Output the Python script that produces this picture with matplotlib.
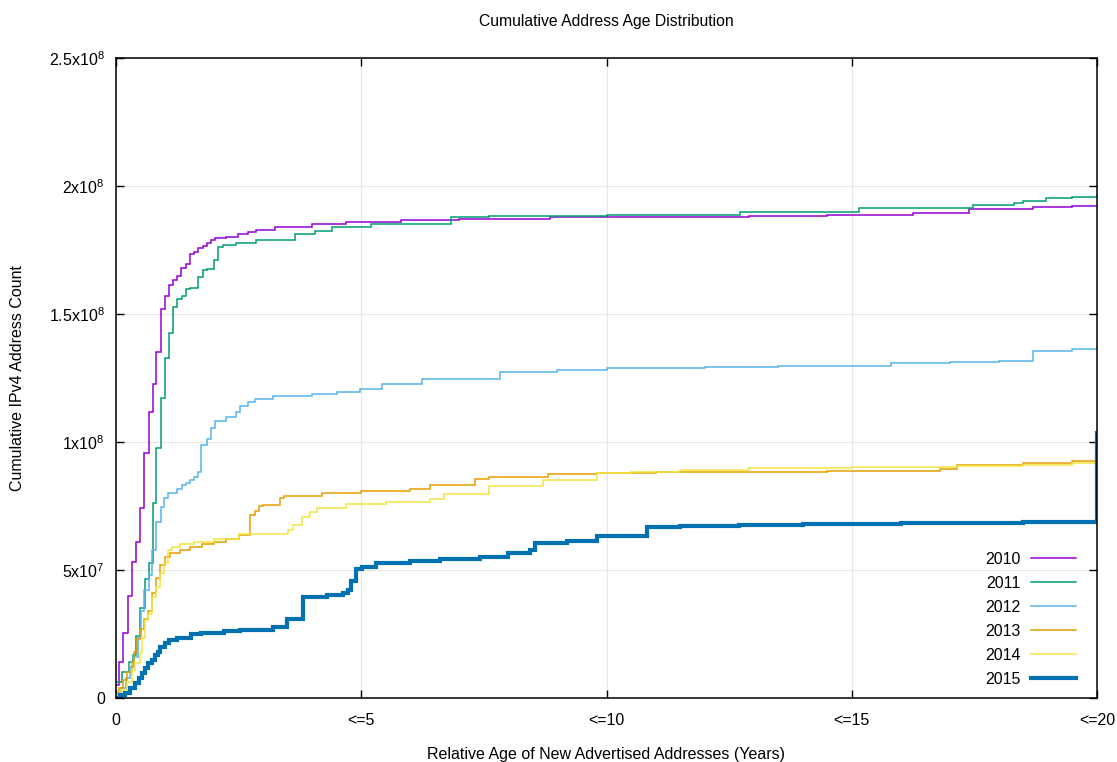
import matplotlib
matplotlib.use("Agg")
import matplotlib.pyplot as plt
import numpy as np

plt.rcParams['font.family'] = ['Liberation Sans', 'DejaVu Sans']
plt.rcParams['mathtext.default'] = 'regular'

SCALE = 1e8  # values below are in units of 1e8 addresses

years_2010 = [0, 0.07, 0.152, 0.235, 0.324, 0.413, 0.495, 0.578, 0.667, 0.749, 0.825, 0.914, 0.996,
              1.079, 1.168, 1.25, 1.333, 1.422, 1.505, 1.594, 1.676, 1.765, 1.848, 1.937, 2.019, 2.246,
              2.486, 2.692, 2.864, 3.24, 4.0, 4.68, 5.82, 7.0, 8.85, 10.5, 12.9, 14.5, 16.25, 17.4, 18.7,
              19.5, 20]
count_2010 = [0.05, 0.142, 0.254, 0.399, 0.530, 0.609, 0.741, 0.958, 1.116, 1.227, 1.352, 1.521, 1.569,
              1.613, 1.631, 1.648, 1.678, 1.694, 1.734, 1.743, 1.756, 1.766, 1.776, 1.789, 1.795, 1.802,
              1.8125, 1.822, 1.829, 1.839, 1.850, 1.858, 1.867, 1.871, 1.877, 1.879, 1.883, 1.887, 1.893,
              1.909, 1.917, 1.921, 1.923]

years_2011 = [0, 0.12, 0.255, 0.337, 0.413, 0.495, 0.585, 0.667, 0.749, 0.825, 0.914, 0.996, 1.086, 1.168,
              1.25, 1.34, 1.422, 1.505, 1.676, 1.765, 1.855, 2.006, 2.088, 2.177, 2.452, 2.864, 3.65,
              4.065, 4.4, 5.2, 6.83, 7.6, 10.0, 12.72, 15.15, 17.47, 18.3, 18.5, 18.97, 19.5, 20]
count_2011 = [0.063, 0.10, 0.142, 0.169, 0.241, 0.353, 0.464, 0.526, 0.760, 0.977, 1.171, 1.329, 1.427, 1.527,
              1.560, 1.569, 1.596, 1.602, 1.644, 1.671, 1.677, 1.710, 1.7625, 1.770, 1.776, 1.789, 1.8125,
              1.826, 1.840, 1.850, 1.879, 1.884, 1.888, 1.900, 1.913, 1.926, 1.935, 1.942, 1.952, 1.958, 1.962]

years_2012 = [0, 0.1, 0.2, 0.29, 0.37, 0.45, 0.5, 0.58, 0.67, 0.74, 0.815, 0.91, 0.985, 1.07, 1.24, 1.34,
              1.42, 1.51, 1.6, 1.68, 1.73, 1.848, 1.937, 2.019, 2.246, 2.452, 2.535, 2.692, 2.83, 3.2, 4.0,
              4.5, 4.97, 5.42, 6.23, 7.83, 9.0, 10.0, 12.0, 13.5, 15.8, 17.0, 18.0, 18.7, 19.5, 20]
count_2012 = [0.015, 0.04, 0.08, 0.12, 0.16, 0.24, 0.34, 0.42, 0.48, 0.58, 0.689, 0.747, 0.78, 0.80, 0.815, 0.832,
              0.84, 0.852, 0.865, 0.884, 0.99, 1.013, 1.056, 1.083, 1.096, 1.116, 1.142, 1.158, 1.168, 1.178, 1.187,
              1.196, 1.207, 1.227, 1.248, 1.275, 1.282, 1.288, 1.294, 1.297, 1.307, 1.312, 1.316, 1.355, 1.362,
              1.368]

years_2013 = [0, 0.07, 0.15, 0.23, 0.32, 0.37, 0.42, 0.49, 0.57, 0.66, 0.74, 0.82, 0.90, 0.99, 1.1, 1.3,
              1.5, 1.75, 2.0, 2.246, 2.5, 2.74, 2.83, 2.91, 3.0, 3.35, 3.43, 4.2, 5.0, 6.0, 6.4, 7.32, 7.6,
              8.8, 9.8, 11.0, 12.9, 14.5, 16.8, 17.14, 18.5, 19.5, 20]
count_2013 = [0.01, 0.04, 0.07, 0.10, 0.14, 0.18, 0.23, 0.27, 0.31, 0.34, 0.41, 0.47, 0.52, 0.55, 0.565, 0.58,
              0.59, 0.60, 0.61, 0.622, 0.637, 0.714, 0.731, 0.749, 0.755, 0.780, 0.789, 0.802, 0.808, 0.816,
              0.833, 0.857, 0.864, 0.875, 0.879, 0.881, 0.884, 0.887, 0.893, 0.910, 0.917, 0.924, 0.926]

years_2014 = [0, 0.1, 0.22, 0.32, 0.39, 0.49, 0.52, 0.59, 0.66, 0.73, 0.81, 0.89, 0.98, 1.06, 1.14, 1.3,
              1.6, 2.0, 2.5, 3.5, 3.6, 3.79, 3.96, 4.1, 4.68, 5.5, 6.4, 6.68, 7.6, 8.7, 9.8, 10.5, 11.5,
              12.9, 15.0, 17.14, 18.5, 19.5, 20]
count_2014 = [0.01, 0.03, 0.064, 0.11, 0.137, 0.176, 0.234, 0.305, 0.33, 0.396, 0.435, 0.488, 0.527, 0.578,
              0.591, 0.60, 0.61, 0.622, 0.642, 0.656, 0.675, 0.708, 0.728, 0.741, 0.757, 0.765, 0.776, 0.796,
              0.830, 0.850, 0.877, 0.884, 0.890, 0.897, 0.901, 0.906, 0.912, 0.917, 0.919]

years_2015 = [0, 0.08, 0.18, 0.29, 0.39, 0.46, 0.52, 0.59, 0.66, 0.73, 0.80, 0.86, 0.90, 1.0, 1.08, 1.25,
              1.53, 1.73, 2.2, 2.53, 3.21, 3.48, 3.82, 4.3, 4.63, 4.72, 4.80, 4.89, 5.01, 5.31, 6.0, 6.6,
              7.42, 8.0, 8.44, 8.54, 9.2, 9.8, 10.82, 11.5, 12.7, 14.0, 16.0, 18.5, 19.98, 20]
count_2015 = [0.0, 0.01, 0.02, 0.04, 0.06, 0.08, 0.098, 0.117, 0.135, 0.15, 0.168, 0.18, 0.2, 0.215, 0.225,
              0.235, 0.249, 0.254, 0.262, 0.266, 0.279, 0.307, 0.396, 0.403, 0.409, 0.42, 0.458, 0.503, 0.513,
              0.526, 0.535, 0.542, 0.552, 0.565, 0.578, 0.604, 0.615, 0.634, 0.667, 0.673, 0.675, 0.678,
              0.682, 0.687, 0.689, 1.035]

series_labels = ['2010', '2011', '2012', '2013', '2014', '2015']
series_years = [years_2010, years_2011, years_2012, years_2013, years_2014, years_2015]
series_counts = [count_2010, count_2011, count_2012, count_2013, count_2014, count_2015]
colors = ['#9400d3', '#009e73', '#56b4e9', '#e69f00', '#f0e442', '#0072b2']
widths = [1.1, 1.1, 1.1, 1.1, 1.1, 3.0]

xtick_vals = [0, 5, 10, 15, 20]
xtick_labels = ['0', '<=5', '<=10', '<=15', '<=20']
ytick_vals = [0, 0.5, 1.0, 1.5, 2.0, 2.5]
ytick_labels = ['0', r'5x10$^{7}$', r'1x10$^{8}$', r'1.5x10$^{8}$', r'2x10$^{8}$', r'2.5x10$^{8}$']

fig = plt.figure(figsize=(11.17, 7.62), dpi=100)
ax = fig.add_axes([116 / 1117, 64 / 762, 981 / 1117, 640 / 762])

for yrs, cnt, lab, col, lw in zip(series_years, series_counts, series_labels, colors, widths):
    ax.plot(yrs, np.array(cnt) * SCALE, drawstyle='steps-post', color=col, lw=lw, label=lab,
            solid_joinstyle='miter')

ax.set_xlim(0, 20)
ax.set_ylim(0, 2.5 * SCALE)
ax.set_xticks(xtick_vals)
ax.set_xticklabels(xtick_labels)
ax.set_yticks([v * SCALE for v in ytick_vals])
ax.set_yticklabels(ytick_labels)
ax.tick_params(direction='in', top=True, right=True, length=6, width=1.0, labelsize=11.5,
               color='black')
ax.tick_params(axis='x', pad=11)
ax.tick_params(axis='y', pad=8)
ax.grid(True, color='#e6e6e6', lw=0.8)
ax.set_axisbelow(True)
for sp in ax.spines.values():
    sp.set_linewidth(1.1)
    sp.set_color('black')

leg = ax.legend(loc='lower right', bbox_to_anchor=(0.979, 0.0175), frameon=False, markerfirst=False,
                fontsize=11.5, handlelength=2.85, handletextpad=0.65, labelspacing=0.56,
                borderaxespad=0, borderpad=0)

fig.text(606 / 1117, 1 - 21.5 / 762, 'Cumulative Address Age Distribution', ha='center', va='center',
         fontsize=11.3)
fig.text(606 / 1117, 1 - 755 / 762, 'Relative Age of New Advertised Addresses (Years)', ha='center',
         va='center', fontsize=11.5)
fig.text(18 / 1117, 1 - 378 / 762, 'Cumulative IPv4 Address Count', ha='center', va='center',
         rotation=90, fontsize=11.5)

fig.savefig('out.png', dpi=100)
